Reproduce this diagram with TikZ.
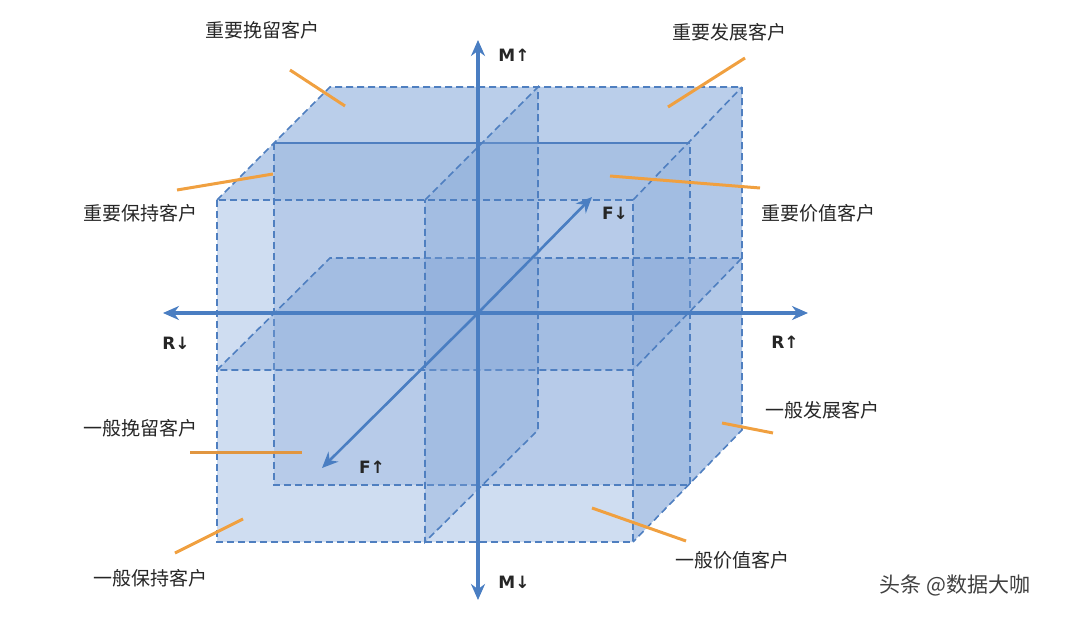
\documentclass[tikz,border=0pt]{standalone}
\usepackage{fontspec}
\setmainfont{DejaVu Sans}
\newfontfamily\cjk{Noto Sans CJK SC}
\usetikzlibrary{arrows.meta}
\definecolor{ax}{HTML}{4A7EC2}
\definecolor{edge}{HTML}{4F7FC0}
\definecolor{fillA}{HTML}{C3D5EE}
\definecolor{fillB}{HTML}{7FA3D6}
\definecolor{ora}{HTML}{F0A040}
\tikzset{
  lab/.style={font=\cjk\fontsize{19}{22}\selectfont, text=black!85},
  axl/.style={font=\bfseries\fontsize{17}{20}\selectfont, text=black!85},
  dsh/.style={draw=edge, line width=1.6pt, dash pattern=on 7pt off 4pt},
  pl/.style={fill=fillB, fill opacity=0.35},
  axis/.style={draw=ax, line width=3.2pt, -{Stealth[length=16pt,width=14pt]}},
  ptr/.style={draw=ora, line width=3pt}
}
\begin{document}
\begin{tikzpicture}[x=1pt,y=-1pt]
\useasboundingbox (0,0) rectangle (1072,618);
\fill[fillA, opacity=0.8] (217,200) -- (330,87) -- (742,87) -- (742,430) -- (633,542) -- (217,542) -- cycle;
\fill[fillB, opacity=0.35] (633,200) -- (742,87) -- (742,430) -- (633,542) -- cycle;
\fill[fillB, opacity=0.25] (217,200) -- (330,87) -- (742,87) -- (633,200) -- cycle;
\fill[fillB, opacity=0.3] (274,143) rectangle (690,485);
\draw[edge, line width=1.8pt] (274,143) -- (690,143);
\draw[dsh] (274,143) -- (274,485) -- (690,485) -- (690,143);
\fill[pl] (217,370) -- (330,258) -- (742,258) -- (633,370) -- cycle;
\draw[dsh] (217,370) -- (330,258) -- (742,258) -- (633,370) -- cycle;
\fill[pl] (425,200) -- (538,87) -- (538,430) -- (425,542) -- cycle;
\draw[dsh] (425,200) -- (538,87) -- (538,430) -- (425,542) -- cycle;
\draw[dsh] (217,200) rectangle (633,542);
\draw[dsh] (217,200) -- (330,87) -- (742,87) -- (742,430) -- (633,542);
\draw[dsh] (633,200) -- (742,87);
\coordinate (c) at (478,313);
\coordinate (mt) at (478,40); \coordinate (mb) at (478,600);
\coordinate (rl) at (163,313); \coordinate (rr) at (808,313);
\coordinate (fb) at (322,468); \coordinate (ft) at (592,197);
\draw[axis] (c) -- (mt); \draw[axis] (c) -- (mb);
\draw[axis] (c) -- (rl); \draw[axis] (c) -- (rr);
\draw[axis, line width=2.6pt] (c) -- (fb); \draw[axis, line width=2.6pt] (c) -- (ft);
\node[axl] (m1) at (514,55) {M↑};
\node[axl] (m2) at (514,582) {M↓};
\node[axl] (r1) at (176,343) {R↓};
\node[axl] (r2) at (785,342) {R↑};
\node[axl] (f1) at (615,213) {F↓};
\node[axl] (f2) at (372,467) {F↑};
\node[lab] (a) at (262,30) {重要挽留客户};
\draw[ptr] (290,70) -- (345,106);
\node[lab] (b) at (729,32) {重要发展客户};
\draw[ptr] (745,58) -- (668,107);
\node[lab] (cc) at (140,213) {重要保持客户};
\draw[ptr] (177,190) -- (273,174);
\node[lab] (d) at (818,213) {重要价值客户};
\draw[ptr] (610,176) -- (760,188);
\node[lab] (e) at (140,428) {一般挽留客户};
\draw[ptr, draw=ora!70!brown] (190,452) -- (302,452);
\node[lab] (f) at (822,410) {一般发展客户};
\draw[ptr] (722,423) -- (773,433);
\node[lab] (g) at (150,578) {一般保持客户};
\draw[ptr] (175,553) -- (243,519);
\node[lab] (h) at (732,560) {一般价值客户};
\draw[ptr] (592,508) -- (686,541);
\node[font=\cjk\fontsize{21}{24}\selectfont, text=black!75] (w) at (955,585) {头条 @数据大咖};
\end{tikzpicture}
\end{document}
